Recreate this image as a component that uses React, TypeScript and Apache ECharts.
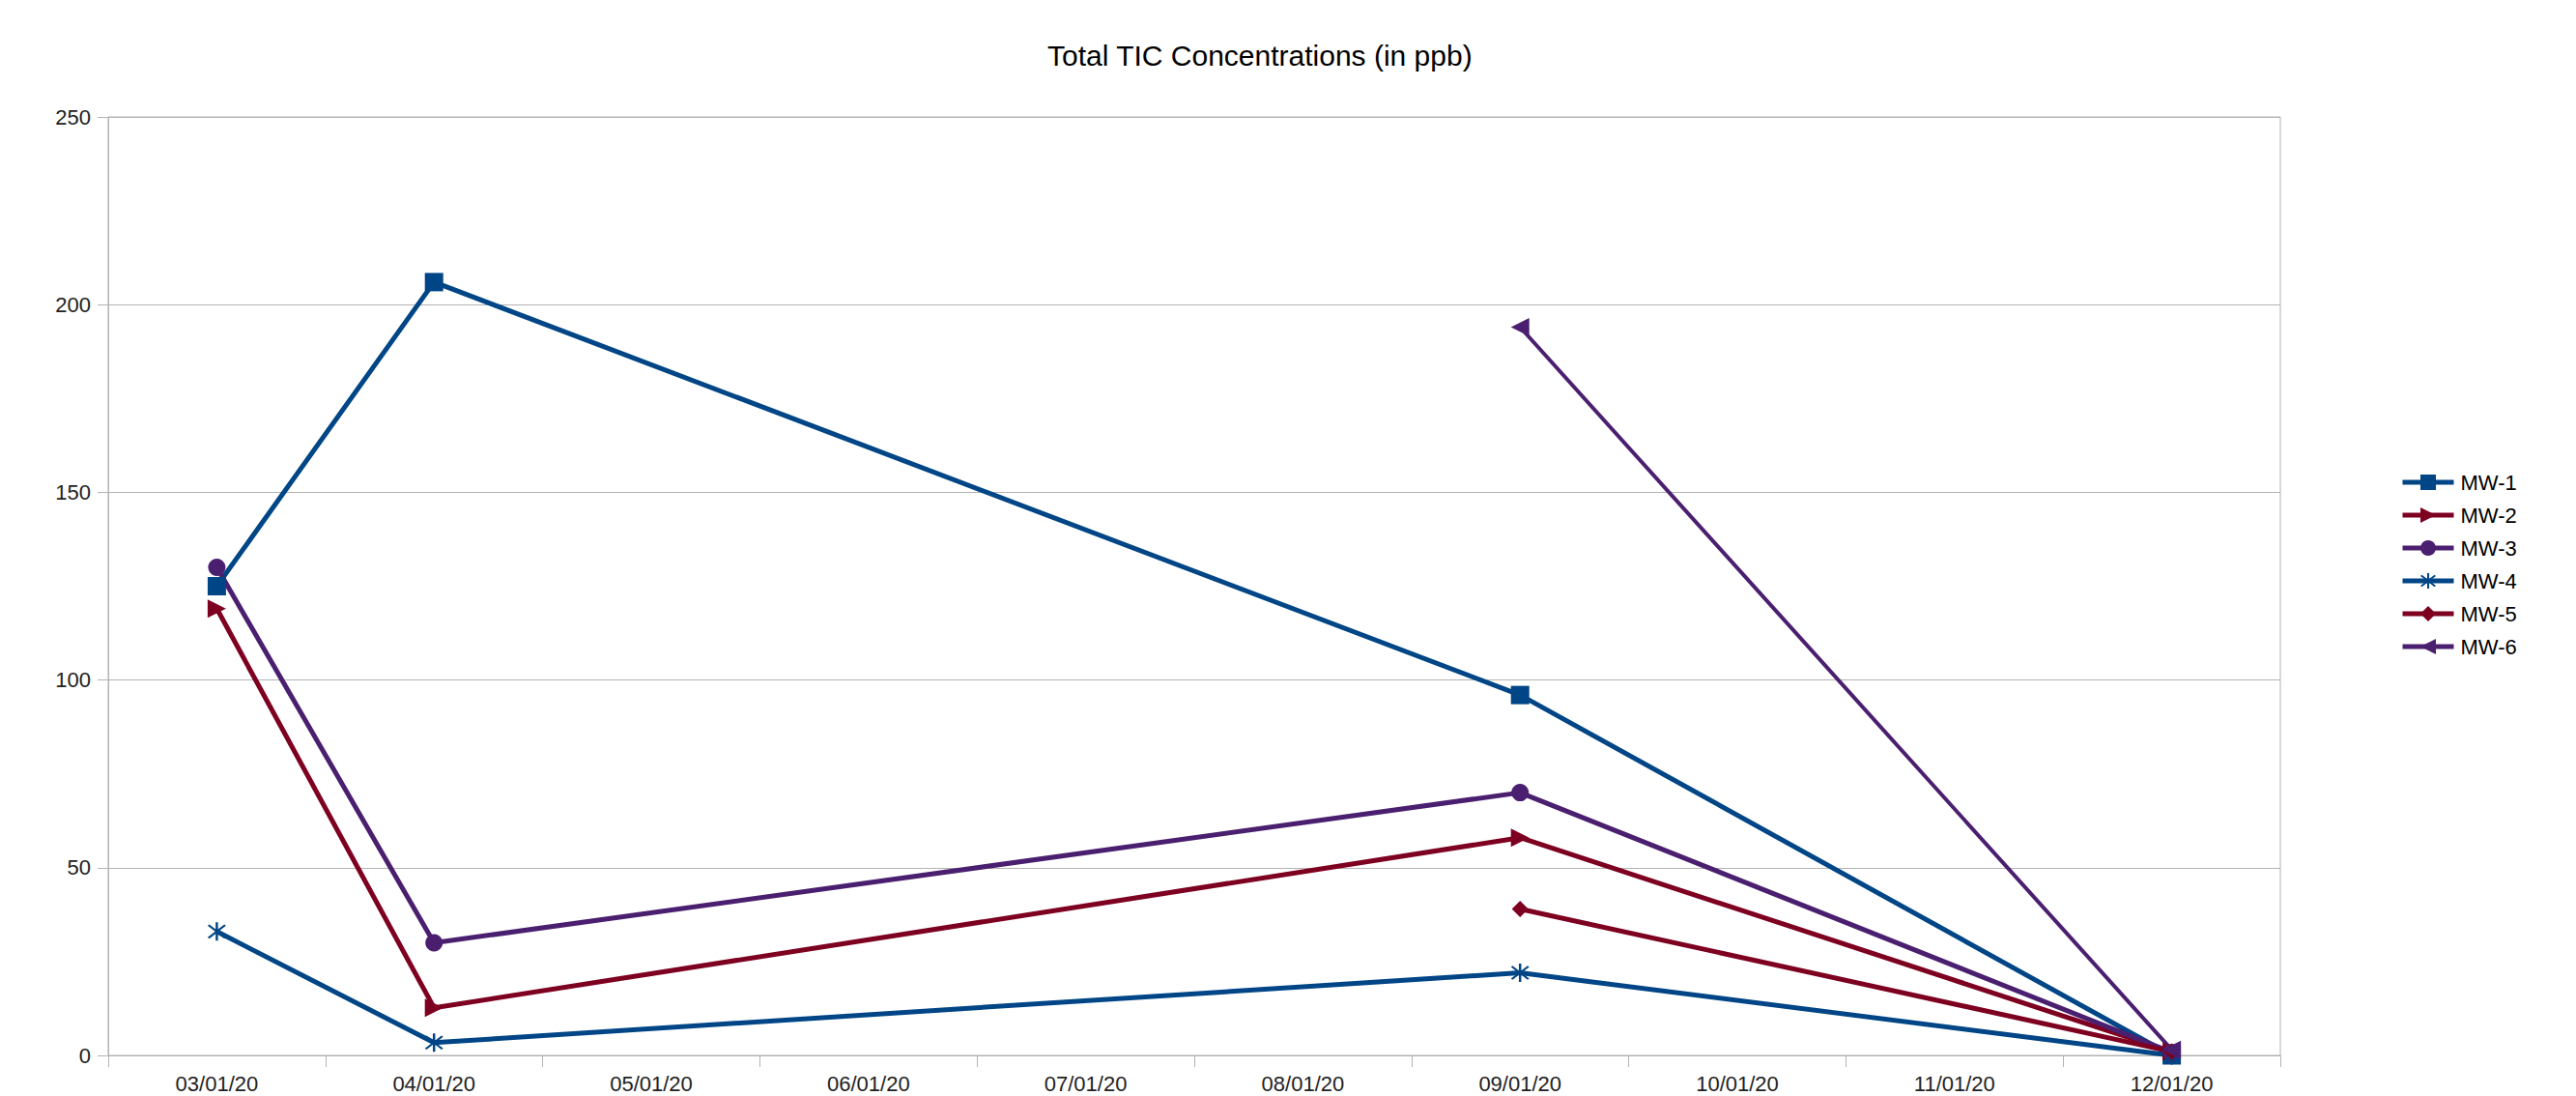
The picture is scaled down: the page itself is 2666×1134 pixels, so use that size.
import React, { useEffect, useRef } from "react";
import * as echarts from "echarts";

const categories = [
  "03/01/20", "04/01/20", "05/01/20", "06/01/20", "07/01/20",
  "08/01/20", "09/01/20", "10/01/20", "11/01/20", "12/01/20",
];
const mw1 = [125, 206, null, null, null, null, 96, null, null, 0];
const mw2 = [119, 12.7, null, null, null, null, 58, null, null, 1];
const mw3 = [130, 30, null, null, null, null, 70, null, null, 0.8];
const mw4 = [33, 3.4, null, null, null, null, 22, null, null, 0];
const mw5 = [null, null, null, null, null, null, 39, null, null, 1];
const mw6 = [null, null, null, null, null, null, 194, null, null, 1.5];
const seriesNames = ["MW-1", "MW-2", "MW-3", "MW-4", "MW-5", "MW-6"];
const yTicks = { min: 0, max: 250, interval: 50 };

const BLUE = "#004586";
const RED = "#7e0021";
const PURPLE = "#4b1f6f";

const STAR =
  "path://M9 0 L11 0 L11 20 L9 20 Z M3.7 2.3 L17.7 16.3 L16.3 17.7 L2.3 3.7 Z M16.3 2.3 L17.7 3.7 L3.7 17.7 L2.3 16.3 Z";

export default function App() {
  const ref = useRef<HTMLDivElement>(null);
  useEffect(() => {
    if (!ref.current) return;
    const chart = echarts.init(ref.current, null, { renderer: "svg" });
    const font = "Liberation Sans";
    const mk = (
      name: string,
      data: (number | null)[],
      color: string,
      symbol: string,
      symbolSize: number,
      symbolRotate = 0,
      width = 5
    ) => ({
      name,
      type: "line",
      data,
      connectNulls: true,
      symbol,
      symbolSize,
      symbolRotate,
      showAllSymbol: true,
      lineStyle: { color, width },
      itemStyle: { color, borderWidth: 0 },
      emphasis: { disabled: true },
    });
    chart.setOption({
      animation: false,
      backgroundColor: "#ffffff",
      title: {
        text: "Total TIC Concentrations (in ppb)",
        left: 1079,
        top: 37,
        textStyle: {
          fontFamily: font,
          fontSize: 30,
          fontWeight: "normal",
          color: "#000000",
        },
      },
      legend: {
        orient: "vertical",
        left: 2479,
        top: 483,
        itemWidth: 53,
        itemHeight: 20,
        itemGap: 12,
        data: seriesNames,
        lineStyle: { width: 5 },
        textStyle: { fontFamily: font, fontSize: 22, color: "#000000", padding: [0, 0, 0, 2] },
      },
      grid: {
        left: 112,
        right: 306,
        top: 121,
        bottom: 42,
        show: true,
        borderColor: "#b3b3b3",
        borderWidth: 1,
        containLabel: false,
      },
      xAxis: {
        type: "category",
        data: categories,
        boundaryGap: true,
        axisLine: { show: true, lineStyle: { color: "#b3b3b3", width: 1 } },
        axisTick: { show: true, length: 12, alignWithLabel: false, lineStyle: { color: "#b3b3b3" } },
        axisLabel: {
          fontFamily: font,
          fontSize: 22,
          color: "#222222",
          margin: 18,
          interval: 0,
        },
        splitLine: { show: false },
      },
      yAxis: {
        type: "value",
        min: yTicks.min,
        max: yTicks.max,
        interval: yTicks.interval,
        axisLine: { show: true, lineStyle: { color: "#b3b3b3", width: 1 } },
        axisTick: { show: true, length: 11, lineStyle: { color: "#b3b3b3" } },
        axisLabel: {
          fontFamily: font,
          fontSize: 22,
          color: "#222222",
          margin: 18,
        },
        splitLine: { show: true, lineStyle: { color: "#b3b3b3", width: 1 } },
      },
      series: [
        mk("MW-1", mw1, BLUE, "rect", 19),
        mk("MW-2", mw2, RED, "triangle", 19, -90),
        mk("MW-3", mw3, PURPLE, "circle", 18),
        mk("MW-4", mw4, BLUE, STAR, 19),
        mk("MW-5", mw5, RED, "diamond", 17),
        mk("MW-6", mw6, PURPLE, "triangle", 19, 90, 4),
      ],
    });
    return () => chart.dispose();
  }, []);
  return (
    <div
      ref={ref}
      style={{ position: "fixed", left: 0, top: 0, width: 2666, height: 1134 }}
    />
  );
}
